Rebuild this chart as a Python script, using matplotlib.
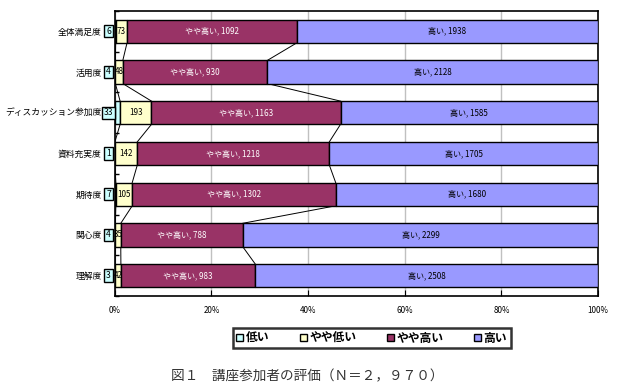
import matplotlib.pyplot as plt
import numpy as np

plt.rcParams["font.family"] = ["Noto Sans CJK JP", "DejaVu Sans"]

# data (counts)
categories = ["全体満足度", "活用度", "ディスカッション参加度", "資料充実度", "期待度", "関心度", "理解度"]
low = [6, 4, 33, 1, 7, 4, 3]
mid_low = [73, 48, 193, 142, 105, 35, 42]
mid_high = [1092, 930, 1163, 1218, 1302, 788, 983]
high = [1938, 2128, 1585, 1705, 1680, 2299, 2508]

series_names = ["低い", "やや低い", "やや高い", "高い"]
colors = ["#CCFFFF", "#FFFFCC", "#993366", "#9999FF"]
xticks = [0, 20, 40, 60, 80, 100]

counts = np.array([low, mid_low, mid_high, high], dtype=float)
pct = counts / counts.sum(axis=0) * 100
left = np.vstack([np.zeros(len(categories)), np.cumsum(pct, axis=0)[:-1]])

fig = plt.figure(figsize=(6.27, 3.89), dpi=100)
ax = fig.add_axes([0.183, 0.239, 0.771, 0.733])

y = np.arange(len(categories))
bar_h = 0.57
for i in range(4):
    ax.barh(y, pct[i], left=left[i], height=bar_h, color=colors[i],
            edgecolor="black", linewidth=1.0, label=series_names[i], zorder=3)

# series lines between bars
ends = np.cumsum(pct, axis=0)
for i in range(3):
    for j in range(len(categories) - 1):
        ax.plot([ends[i, j], ends[i, j + 1]], [y[j] + bar_h / 2, y[j + 1] - bar_h / 2],
                color="black", linewidth=0.7, zorder=2)

# data labels
for j in range(len(categories)):
    # low: boxed label at left edge
    ax.text(-1.3, y[j], str(low[j]), ha="center", va="center", fontsize=6.2,
            bbox=dict(boxstyle="square,pad=0.2", fc="#CCFFFF", ec="black", lw=1.0),
            zorder=6, clip_on=False)
    ax.text(left[1, j] + pct[1, j] / 2, y[j], str(mid_low[j]), ha="center", va="center",
            fontsize=5.8, color="black", zorder=5)
    ax.text(left[2, j] + pct[2, j] / 2, y[j], f"やや高い, {mid_high[j]}", ha="center",
            va="center", fontsize=5.8, color="white", zorder=5)
    ax.text(left[3, j] + pct[3, j] / 2, y[j], f"高い, {high[j]}", ha="center",
            va="center", fontsize=5.8, color="black", zorder=5)

ax.set_xlim(0, 100)
ax.set_ylim(len(categories) - 0.5, -0.5)
ax.set_xticks(xticks)
ax.set_xticklabels([f"{t}%" for t in xticks], fontsize=5.8)
ax.set_yticks(y)
ax.set_yticklabels(categories, fontsize=6.3)
ax.set_yticks(np.arange(len(categories) + 1) - 0.5, minor=True)
ax.tick_params(axis="y", which="major", length=0, pad=9.5)
ax.tick_params(axis="y", which="minor", length=3, direction="in", width=1)
ax.tick_params(axis="x", length=4, direction="in", pad=7)
ax.xaxis.grid(True, color="#C0C0C0", linewidth=1.0, zorder=0)
ax.set_axisbelow(True)
for s in ax.spines.values():
    s.set_linewidth(1.2)

leg = fig.legend(loc="center", bbox_to_anchor=(0.593, 0.131), ncol=4, fontsize=8.5,
                 frameon=True, fancybox=False, edgecolor="black", handlelength=0.6,
                 handleheight=0.6, handletextpad=0.2, columnspacing=2.6,
                 borderpad=0.3)
leg.get_frame().set_linewidth(1.8)
for t in leg.get_texts():
    t.set_fontweight("bold")

fig.text(0.49, 0.033, "図１　講座参加者の評価（Ｎ＝２，９７０）", ha="center", va="center",
         fontsize=9.8, color="#333333")

fig.savefig("out.png", dpi=100)
